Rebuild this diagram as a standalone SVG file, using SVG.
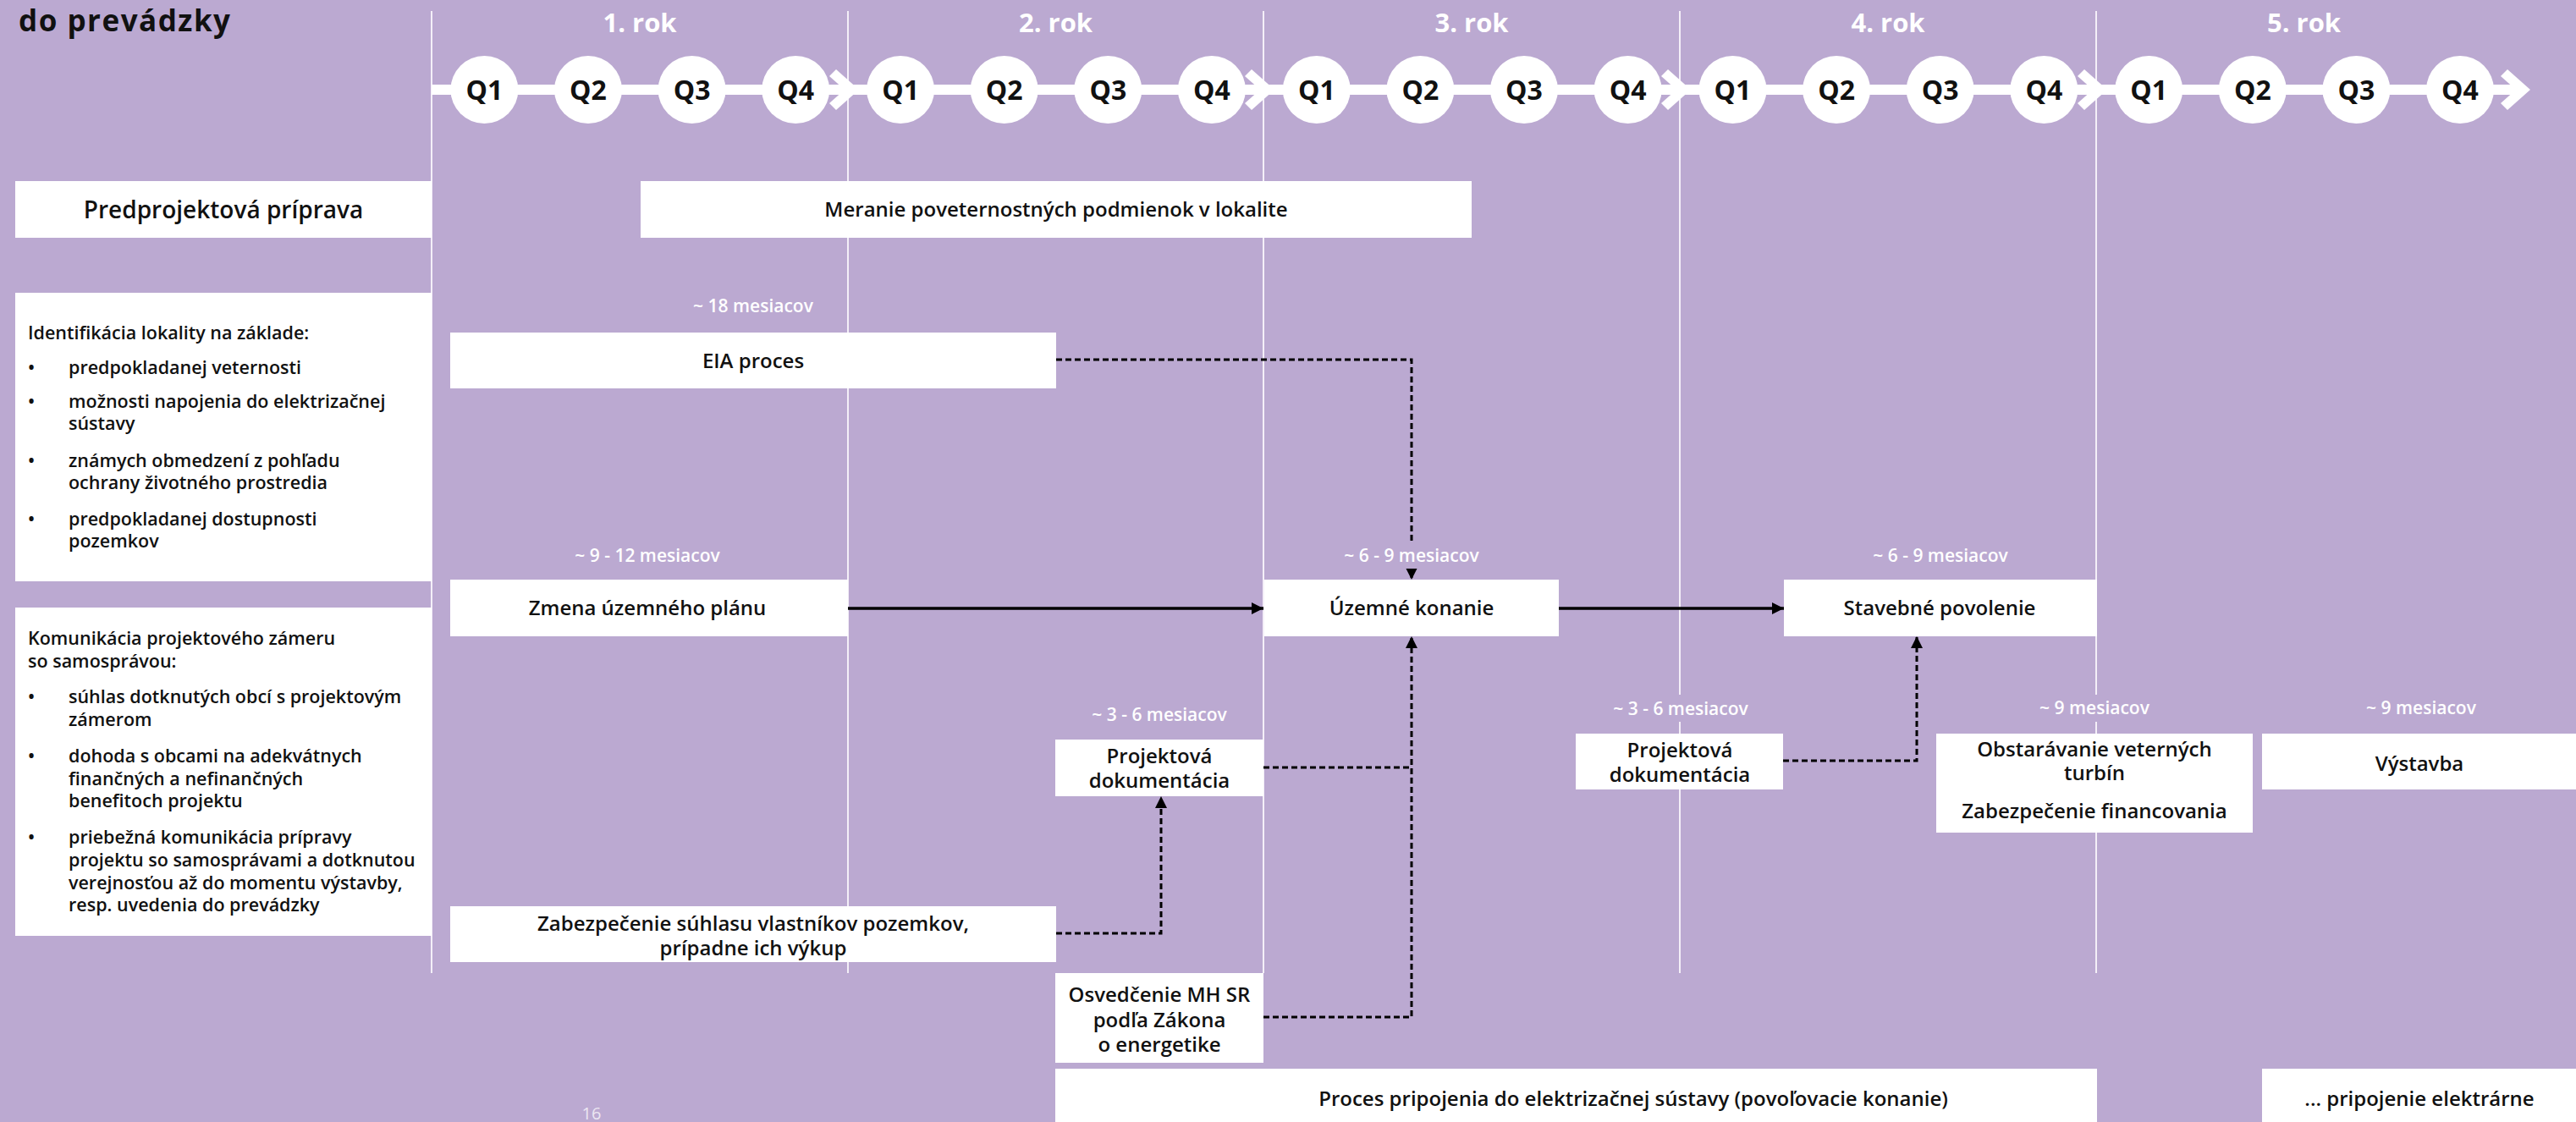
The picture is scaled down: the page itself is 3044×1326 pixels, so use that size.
<svg xmlns="http://www.w3.org/2000/svg" width="3044" height="1326" viewBox="0 0 3044 1326">
<defs>
<style>
text{font-family:'Open Sans','Liberation Sans',sans-serif;font-weight:600;fill:#111;}
.box{fill:#fff;}
.yl{stroke:#f4eff8;stroke-width:2;}
.nt{font-size:24px;text-anchor:middle;}
.dur{font-size:21px;text-anchor:middle;fill:#fff;}
.lbg{fill:#BBA9D1;}
.lt{font-size:21.5px;}
.q{font-size:32px;font-weight:700;text-anchor:middle;}
.yr{font-size:31px;font-weight:700;text-anchor:middle;fill:#fff;}
.solid{fill:none;stroke:#000;stroke-width:3.5;}
.dash{fill:none;stroke:#000;stroke-width:3;stroke-dasharray:7 4;}
</style>
<marker id="ah" markerUnits="userSpaceOnUse" viewBox="0 0 14 14" refX="14" refY="7" markerWidth="14" markerHeight="14" orient="auto"><path d="M0,0 L14,7 L0,14 z" fill="#000"/></marker>
<polygon id="chev" points="-27,82 0,106 -27,130 -35,122 -17,106 -35,90" fill="#fff"/>
</defs>
<rect x="0" y="0" width="3044" height="1326" fill="#BBA9D1"/>
<text x="22" y="37" style="font-size:35px;font-weight:700;letter-spacing:1.5px">do prevádzky</text>
<g id="year-lines">
<line class="yl" x1="510" y1="13" x2="510" y2="1150"/>
<line class="yl" x1="1002" y1="13" x2="1002" y2="1150"/>
<line class="yl" x1="1493" y1="13" x2="1493" y2="1150"/>
<line class="yl" x1="1985" y1="13" x2="1985" y2="1150"/>
<line class="yl" x1="2477" y1="13" x2="2477" y2="1150"/>
</g>
<g id="timeline">
<rect x="510" y="100" width="2465" height="12" fill="#fff"/>
<use href="#chev" x="1015"/>
<use href="#chev" x="1506"/>
<use href="#chev" x="1998"/>
<use href="#chev" x="2490"/>
<use href="#chev" x="2990"/>
<g fill="#fff">
<circle cx="572.4" cy="106" r="40"/><circle cx="695" cy="106" r="40"/><circle cx="817.6" cy="106" r="40"/><circle cx="940.2" cy="106" r="40"/>
<circle cx="1064.1" cy="106" r="40"/><circle cx="1186.7" cy="106" r="40"/><circle cx="1309.3" cy="106" r="40"/><circle cx="1431.9" cy="106" r="40"/>
<circle cx="1555.8" cy="106" r="40"/><circle cx="1678.4" cy="106" r="40"/><circle cx="1801" cy="106" r="40"/><circle cx="1923.6" cy="106" r="40"/>
<circle cx="2047.5" cy="106" r="40"/><circle cx="2170.1" cy="106" r="40"/><circle cx="2292.7" cy="106" r="40"/><circle cx="2415.3" cy="106" r="40"/>
<circle cx="2539.2" cy="106" r="40"/><circle cx="2661.8" cy="106" r="40"/><circle cx="2784.4" cy="106" r="40"/><circle cx="2907" cy="106" r="40"/>
</g>
<text class="q" x="572.4" y="118">Q1</text><text class="q" x="695" y="118">Q2</text><text class="q" x="817.6" y="118">Q3</text><text class="q" x="940.2" y="118">Q4</text>
<text class="q" x="1064.1" y="118">Q1</text><text class="q" x="1186.7" y="118">Q2</text><text class="q" x="1309.3" y="118">Q3</text><text class="q" x="1431.9" y="118">Q4</text>
<text class="q" x="1555.8" y="118">Q1</text><text class="q" x="1678.4" y="118">Q2</text><text class="q" x="1801" y="118">Q3</text><text class="q" x="1923.6" y="118">Q4</text>
<text class="q" x="2047.5" y="118">Q1</text><text class="q" x="2170.1" y="118">Q2</text><text class="q" x="2292.7" y="118">Q3</text><text class="q" x="2415.3" y="118">Q4</text>
<text class="q" x="2539.2" y="118">Q1</text><text class="q" x="2661.8" y="118">Q2</text><text class="q" x="2784.4" y="118">Q3</text><text class="q" x="2907" y="118">Q4</text>
<text class="yr" x="756" y="38">1. rok</text>
<text class="yr" x="1247.5" y="38">2. rok</text>
<text class="yr" x="1739" y="38">3. rok</text>
<text class="yr" x="2231" y="38">4. rok</text>
<text class="yr" x="2722.5" y="38">5. rok</text>
</g>
<g id="connectors">
<path class="solid" d="M1002,719 H1493" marker-end="url(#ah)"/>
<path class="solid" d="M1842,719 H2108" marker-end="url(#ah)"/>
<path class="dash" d="M1248,425 H1668 V685" marker-end="url(#ah)"/>
<path class="dash" d="M1493,907 H1668"/>
<path class="dash" d="M1493,1202 H1668 V752" marker-end="url(#ah)"/>
<path class="dash" d="M1248,1103 H1372 V941" marker-end="url(#ah)"/>
<path class="dash" d="M2107,899 H2265 V752" marker-end="url(#ah)"/>
</g>
<g id="predprojektova">
<rect class="box" x="18" y="214" width="492" height="67"/>
<text x="264" y="258" style="font-size:28px;text-anchor:middle">Predprojektová príprava</text>
</g>
<g id="identifikacia">
<rect class="box" x="18" y="346" width="492" height="341"/>
<text class="lt" x="33" y="401">Identifikácia lokality na základe:</text>
<text class="lt" x="33" y="442">•</text><text class="lt" x="81" y="442">predpokladanej veternosti</text>
<text class="lt" x="33" y="482">•</text><text class="lt" x="81" y="482">možnosti napojenia do elektrizačnej</text>
<text class="lt" x="81" y="508">sústavy</text>
<text class="lt" x="33" y="552">•</text><text class="lt" x="81" y="552">známych obmedzení z pohľadu</text>
<text class="lt" x="81" y="578">ochrany životného prostredia</text>
<text class="lt" x="33" y="621">•</text><text class="lt" x="81" y="621">predpokladanej dostupnosti</text>
<text class="lt" x="81" y="647">pozemkov</text>
</g>
<g id="komunikacia">
<rect class="box" x="18" y="718" width="492" height="388"/>
<text class="lt" x="33" y="762">Komunikácia projektového zámeru</text>
<text class="lt" x="33" y="789">so samosprávou:</text>
<text class="lt" x="33" y="831">•</text><text class="lt" x="81" y="831">súhlas dotknutých obcí s projektovým</text>
<text class="lt" x="81" y="858">zámerom</text>
<text class="lt" x="33" y="901">•</text><text class="lt" x="81" y="901">dohoda s obcami na adekvátnych</text>
<text class="lt" x="81" y="928">finančných a nefinančných</text>
<text class="lt" x="81" y="954">benefitoch projektu</text>
<text class="lt" x="33" y="997">•</text><text class="lt" x="81" y="997">priebežná komunikácia prípravy</text>
<text class="lt" x="81" y="1024">projektu so samosprávami a dotknutou</text>
<text class="lt" x="81" y="1051">verejnosťou až do momentu výstavby,</text>
<text class="lt" x="81" y="1077">resp. uvedenia do prevádzky</text>
</g>
<g id="meranie">
<rect class="box" x="757" y="214" width="982" height="67"/>
<text class="nt" x="1248" y="256">Meranie poveternostných podmienok v lokalite</text>
</g>
<g id="eia">
<text class="dur" x="890" y="368.5">~ 18 mesiacov</text>
<rect class="box" x="532" y="393" width="716" height="66"/>
<text class="nt" x="890" y="434.5">EIA proces</text>
</g>
<g id="zmena">
<text class="dur" x="765" y="663.5">~ 9 - 12 mesiacov</text>
<rect class="box" x="532" y="685" width="470" height="67"/>
<text class="nt" x="765" y="727">Zmena územného plánu</text>
</g>
<g id="uzemne">
<rect class="lbg" x="1585" y="640" width="166" height="32"/>
<text class="dur" x="1668" y="663.5">~ 6 - 9 mesiacov</text>
<rect class="box" x="1494" y="685" width="348" height="67"/>
<text class="nt" x="1668" y="727">Územné konanie</text>
</g>
<g id="stavebne">
<text class="dur" x="2293" y="663.5">~ 6 - 9 mesiacov</text>
<rect class="box" x="2108" y="685" width="370" height="67"/>
<text class="nt" x="2292" y="727">Stavebné povolenie</text>
</g>
<g id="projektova1">
<text class="dur" x="1370" y="851.5">~ 3 - 6 mesiacov</text>
<rect class="box" x="1247" y="874" width="246" height="67"/>
<text class="nt" x="1370" y="901.5">Projektová</text>
<text class="nt" x="1370" y="930.5">dokumentácia</text>
</g>
<g id="projektova2">
<rect class="lbg" x="1900" y="821" width="172" height="32"/>
<text class="dur" x="1986" y="845">~ 3 - 6 mesiacov</text>
<rect class="box" x="1862" y="867" width="245" height="66"/>
<text class="nt" x="1985" y="894.5">Projektová</text>
<text class="nt" x="1985" y="923.5">dokumentácia</text>
</g>
<g id="obstaravanie">
<rect class="lbg" x="2405" y="821" width="140" height="32"/>
<text class="dur" x="2475" y="844">~ 9 mesiacov</text>
<rect class="box" x="2288" y="867" width="374" height="117"/>
<text class="nt" x="2475" y="894">Obstarávanie veterných</text>
<text class="nt" x="2475" y="922">turbín</text>
<text class="nt" x="2475" y="967">Zabezpečenie financovania</text>
</g>
<g id="vystavba">
<text class="dur" x="2861" y="844">~ 9 mesiacov</text>
<rect class="box" x="2673" y="867" width="371" height="66"/>
<text class="nt" x="2859" y="910.5">Výstavba</text>
</g>
<g id="zabezpecenie">
<rect class="box" x="532" y="1071" width="716" height="66"/>
<text class="nt" x="890" y="1099.5">Zabezpečenie súhlasu vlastníkov pozemkov,</text>
<text class="nt" x="890" y="1128.5">prípadne ich výkup</text>
</g>
<g id="osvedcenie">
<rect class="box" x="1247" y="1150" width="246" height="106"/>
<text class="nt" x="1370" y="1183.5">Osvedčenie MH SR</text>
<text class="nt" x="1370" y="1213.5">podľa Zákona</text>
<text class="nt" x="1370" y="1242.5">o energetike</text>
</g>
<g id="proces-pripojenia">
<rect class="box" x="1247" y="1263" width="1231" height="63"/>
<text class="nt" x="1930" y="1306.5">Proces pripojenia do elektrizačnej sústavy (povoľovacie konanie)</text>
</g>
<g id="pripojenie-elektrarne">
<rect class="box" x="2673" y="1263" width="371" height="63"/>
<text class="nt" x="2859" y="1306.5">... pripojenie elektrárne</text>
</g>
<text x="699" y="1323" style="font-size:20px;font-weight:400;text-anchor:middle;fill:#ece6f2">16</text>
</svg>
